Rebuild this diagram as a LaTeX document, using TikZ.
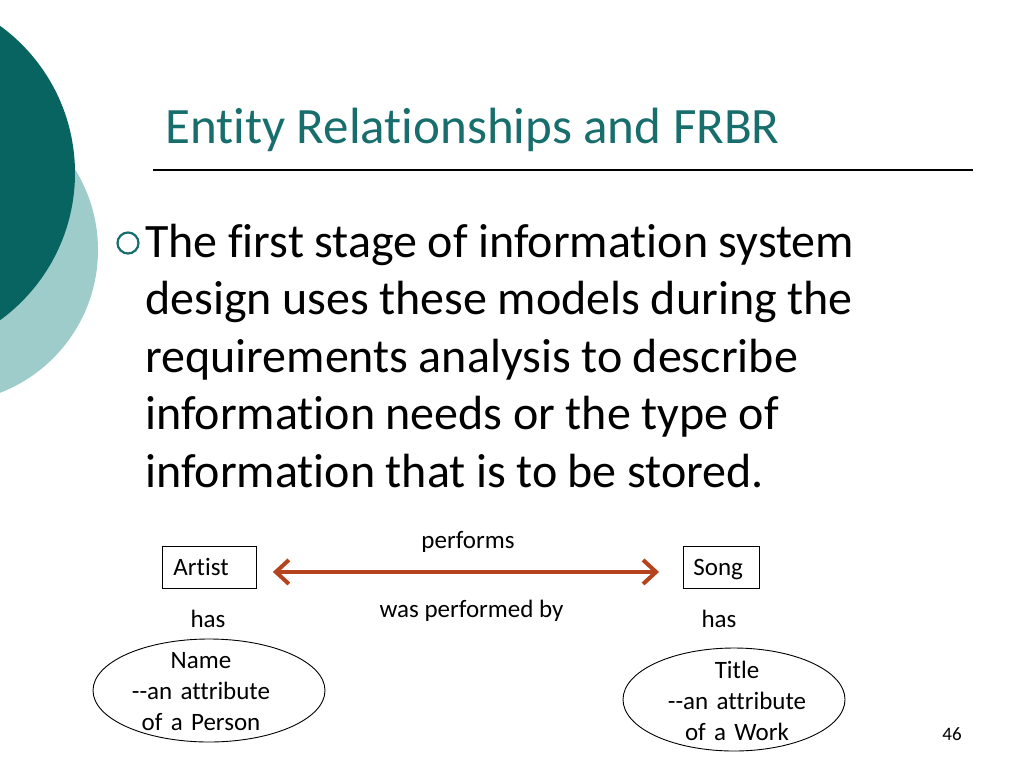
\documentclass[tikz,border=0pt]{standalone}
\usepackage{fontspec}
\setmainfont{Carlito}[Ligatures={NoCommon,NoRequired,NoContextual}, RawFeature=-liga, RawFeature=-clig, RawFeature=-dlig]
\usetikzlibrary{arrows.meta,shapes.geometric}
\definecolor{darkteal}{RGB}{8,100,97}
\definecolor{lightteal}{RGB}{158,204,203}
\definecolor{titleteal}{RGB}{23,110,108}
\definecolor{rust}{RGB}{181,67,29}
\tikzset{
  titletext/.style={anchor=base west, inner sep=0pt, text=titleteal, font=\fontsize{51}{60}\selectfont},
  bodytext/.style={anchor=base west, inner sep=0pt, text width=860pt, align=left, font=\fontsize{48}{57.5}\selectfont},
  small/.style={inner sep=0pt, font=\fontsize{25}{31}\selectfont},
  entbox/.style={draw, line width=0.9pt, small, inner ysep=0pt, minimum height=42pt, text height=23pt, text depth=6pt, align=left},
  attr/.style={draw, ellipse, line width=0.9pt, inner sep=0pt},
  attrtext/.style={small, anchor=base, text width=220pt, align=center},
  relarrow/.style={draw=rust, line width=4pt, {Straight Barb[length=13pt,width=24pt]}-{Straight Barb[length=13pt,width=24pt]}}
}
\begin{document}
\begin{tikzpicture}[x=1pt,y=-1pt]
\useasboundingbox (0,0) rectangle (1024,768);
\begin{scope}
\clip (0,0) rectangle (1024,768);
\fill[lightteal] (-55,250) circle[radius=153];
\fill[darkteal] (-107,173) circle[radius=182];
\end{scope}
\node[titletext] (title) at (165,143) {Entity Relationships and FRBR};
\coordinate (ruleL) at (153,170);
\coordinate (ruleR) at (973,170);
\draw[line width=1.1pt] (ruleL) -- (ruleR);
\node[draw=titleteal, line width=2.2pt, circle, minimum size=21pt, inner sep=0pt] (bullet) at (128,243) {};
\node[bodytext] (body) at (145,257) {\spaceskip=10.5pt\relax The first stage of information system\\design uses these models during the\\requirements analysis to describe\\information needs or the type of\\information that is to be stored.};
\node[entbox, anchor=north west, inner xsep=11pt, text width=72pt] (artist) at (162,546) {Artist};
\node[entbox, anchor=north west, inner xsep=10pt, text width=56pt] (song) at (683,546) {Song};
\draw[relarrow] ([xshift=16pt,yshift=-4.5pt]artist.east) -- ([xshift=-24pt,yshift=-4.5pt]song.west);
\node[small, anchor=base] (performs) at (468,548) {performs};
\node[small, anchor=base] (performedby) at (471.5,617) {was performed by};
\node[small, anchor=base] (hasL) at (208,627) {has};
\node[small, anchor=base] (hasR) at (719,627) {has};
\node[attr, minimum width=232pt, minimum height=103pt] (nameell) at (209,690.5) {};
\node[attrtext] (nametext) at (201,668) {Name\\-{}-an attribute\\of a Person};
\node[attr, minimum width=222pt, minimum height=103pt] (titleell) at (734,699.5) {};
\node[attrtext] (titletext) at (737,678) {Title\\-{}-an attribute\\of a Work\hspace*{28pt}};
\node[anchor=base, inner sep=0pt, font=\fontsize{19}{22}\selectfont] (pagenum) at (952,740) {46};
\end{tikzpicture}
\end{document}
